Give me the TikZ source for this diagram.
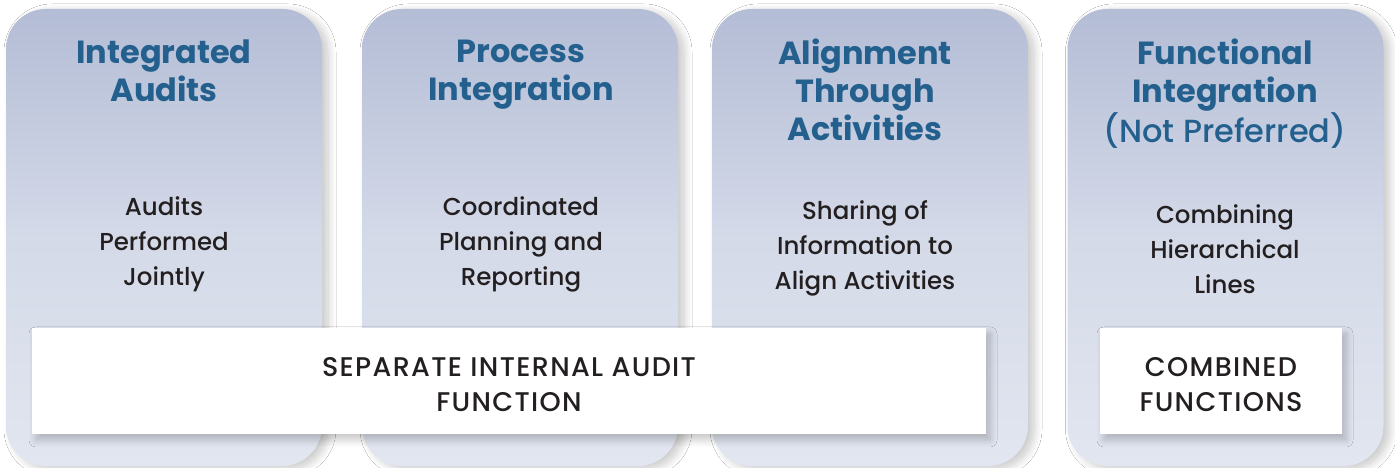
\documentclass[tikz,border=0pt]{standalone}
\usepackage{fontspec}
\setmainfont{Poppins}
\newfontfamily\bodyfont{Poppins Medium}
\newfontfamily\capsfont{Poppins Medium}[LetterSpace=5]
\usetikzlibrary{shadows.blur}
\definecolor{titlecolor}{RGB}{36,96,142}
\definecolor{textcolor}{RGB}{35,31,32}
\definecolor{cardtop}{RGB}{180,189,214}
\definecolor{cardbottom}{RGB}{226,230,240}

\begin{document}
\begin{tikzpicture}
  [x=1pt,y=1pt,
   % Styles
   card/.style={rounded corners=40pt,minimum width=316pt,minimum height=457pt,
     top color=cardtop,bottom color=cardbottom,middle color=cardbottom!70!cardtop,
     blur shadow={shadow xshift=6pt,shadow yshift=-3pt,shadow blur radius=8pt,
       shadow blur steps=12,shadow opacity=22}},
   title text/.style={anchor=north,inner sep=0pt,text=titlecolor,align=center,
     font=\fontsize{32}{38}\selectfont\bfseries},
   body text/.style={anchor=north,inner sep=0pt,text=textcolor,align=center,
     font=\fontsize{24.5}{35}\selectfont\bodyfont},
   base box/.style={fill=white,minimum height=106pt,
     blur shadow={shadow xshift=4pt,shadow yshift=-6pt,shadow blur radius=7pt,
       shadow blur steps=12,shadow opacity=22}},
   box text/.style={anchor=north,inner sep=0pt,text=textcolor,align=center,
     font=\fontsize{27}{35}\selectfont\capsfont}]

  \useasboundingbox[fill=white] (0,0) rectangle (1395,468);

  % The cards
  \node[card] (audits) at (164,230.5) {};
  \node[card] (process) at (520,230.5) {};
  \node[card] (alignment) at (870,230.5) {};
  \node[card] (functional) at (1225.5,230.5) {};

  % Titles
  \node[title text] (audits title) at (164,428) {Integrated\\Audits};
  \node[title text] (process title) at (521,428) {Process\\Integration};
  \node[title text] (alignment title) at (865,429) {Alignment\\Through\\Activities};
  \node[title text] (functional title) at (1225,429)
    {Functional\\Integration\\{\mdseries\bodyfont(Not Preferred)}};

  % Descriptions
  \node[body text] (audits text) at (164,272) {Audits\\Performed\\Jointly};
  \node[body text] (process text) at (521,272) {Coordinated\\Planning and\\Reporting};
  \node[body text] (alignment text) at (865,268) {Sharing of\\Information to\\Align Activities};
  \node[body text] (functional text) at (1225,264) {Combining\\Hierarchical\\Lines};

  % The white boxes
  \node[base box,minimum width=954pt] (separate) at (509,87) {};
  \node[box text] at (509,111) {SEPARATE INTERNAL AUDIT\\FUNCTION};
  \node[base box,minimum width=242pt] (combined) at (1221,87) {};
  \node[box text] at (1221,111) {COMBINED\\FUNCTIONS};
\end{tikzpicture}
\end{document}
